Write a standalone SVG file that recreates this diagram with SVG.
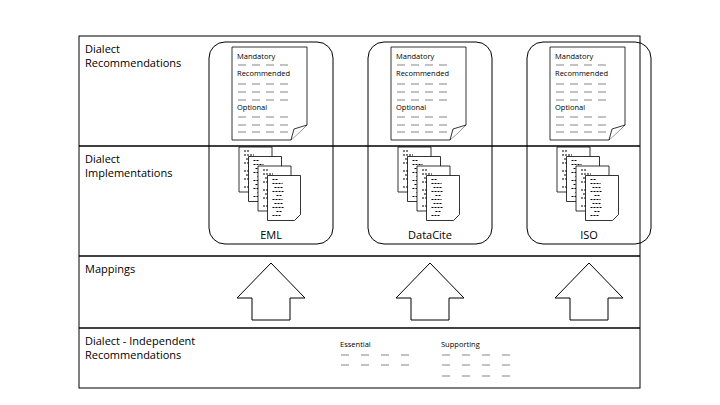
<svg xmlns="http://www.w3.org/2000/svg" width="720" height="405" viewBox="0 0 720 405">
<defs>
<style>
text{font-family:"Open Sans","Liberation Sans",sans-serif;fill:#000}
.lbl{font-size:11px}
.sm{font-size:7.5px}
.ln{stroke:#000;stroke-width:1.5;fill:none}
.pg{fill:#fff;stroke:#000;stroke-width:0.8}
.rr{fill:none;stroke:#000;stroke-width:1}
.ar{fill:#fff;stroke:#000;stroke-width:1}
.dl{stroke:#333;stroke-width:0.6;stroke-dasharray:8,6;fill:none}
.dl2{stroke:#333;stroke-width:0.6;stroke-dasharray:8,12;fill:none}
</style>
<g id="doc">
<path class="pg" d="M0,0 H75 V78 L59,93 H0 Z"/>
<path class="pg" d="M75,78 L62,82 L59,93"/>
<text class="sm" x="5" y="12">Mandatory</text>
<text class="sm" x="5" y="29">Recommended</text>
<text class="sm" x="5" y="63">Optional</text>
<path class="dl" d="M6,18 h50 M6,37 h50 M6,45 h50 M6,53 h50 M6,70 h50 M6,78 h50 M6,85 h50"/>
</g>
<g id="pg1">
<path class="pg" d="M0,0 H33 V39 L27,45 H0 Z"/>
<path d="M5,4 h6 M5,8 h10 M7,12 h8 M5,16 h12 M9,20 h6 M5,24 h10 M7,28 h8 M5,32 h12 M9,36 h6 M5,40 h8" stroke="#000" stroke-width="1" stroke-dasharray="2,1"/>
</g>
<g id="stack">
<use href="#pg1" x="0" y="0"/><use href="#pg1" x="9.5" y="9.5"/><use href="#pg1" x="19" y="19"/><use href="#pg1" x="28.5" y="28.5"/>
</g>
<path id="arrow" class="ar" d="M0,-29 L34,6 H19 V28 H-19 V6 H-34 Z"/>
</defs>
<rect x="0" y="0" width="720" height="405" fill="#fff"/>
<g id="frame">
<rect x="79" y="36" width="561" height="352" fill="none" stroke="#000" stroke-width="1"/>
<line class="ln" x1="79" y1="146" x2="640" y2="146"/>
<line class="ln" x1="79" y1="256" x2="640" y2="256"/>
<line class="ln" x1="79" y1="328" x2="640" y2="328"/>
</g>
<g id="row-labels">
<text class="lbl" x="85" y="53">Dialect</text><text class="lbl" x="85" y="67">Recommendations</text>
<text class="lbl" x="85" y="163">Dialect</text><text class="lbl" x="85" y="177">Implementations</text>
<text class="lbl" x="85" y="273">Mappings</text>
<text class="lbl" x="85" y="345">Dialect - Independent</text><text class="lbl" x="85" y="359">Recommendations</text>
</g>
<g id="eml">
<rect class="rr" x="209" y="42" width="124" height="202" rx="16"/>
<use href="#doc" x="232" y="47"/><use href="#stack" x="239" y="147"/>
<text class="lbl" x="271" y="239" text-anchor="middle">EML</text>
</g>
<g id="datacite">
<rect class="rr" x="368" y="42" width="124" height="202" rx="16"/>
<use href="#doc" x="391" y="47"/><use href="#stack" x="398" y="147"/>
<text class="lbl" x="430" y="239" text-anchor="middle">DataCite</text>
</g>
<g id="iso">
<rect class="rr" x="527" y="42" width="124" height="202" rx="16"/>
<use href="#doc" x="550" y="47"/><use href="#stack" x="557" y="147"/>
<text class="lbl" x="589" y="239" text-anchor="middle">ISO</text>
</g>
<g id="connectors">
<use href="#arrow" x="271" y="292"/>
<use href="#arrow" x="430" y="292"/>
<use href="#arrow" x="589" y="292"/>
</g>
<g id="independent">
<text class="sm" x="340" y="347">Essential</text>
<text class="sm" x="441" y="347">Supporting</text>
<path class="dl2" d="M341,355 h70 M341,365 h70 M442,355 h70 M442,365 h70 M442,376 h70"/>
</g>
</svg>
